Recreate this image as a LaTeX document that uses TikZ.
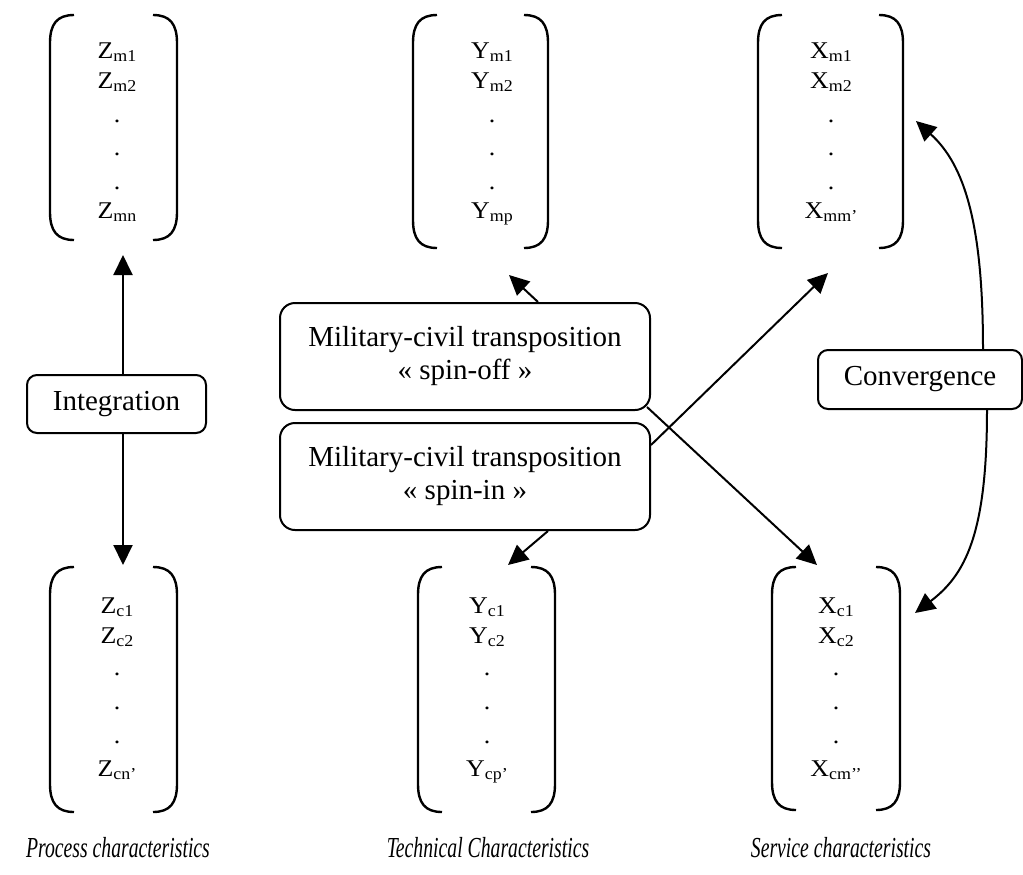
\documentclass[tikz,border=0pt]{standalone}
\usepackage{fontspec}
\usepackage{graphicx}
\setmainfont{Liberation Serif}
\usetikzlibrary{arrows.meta}
\newcommand\sub[1]{\raisebox{-1.6pt}{\fontsize{8.3}{9}\selectfont #1}}
\newcommand\mt[1]{\scalebox{1.08}[1]{#1}}
\newcommand\brk[4]{%
 \draw[bracket] ({#1+24},#3) .. controls ({#1+7},#3) and (#1,{#3+9}) .. (#1,{#3+28}) -- (#1,{#4-28}) .. controls (#1,{#4-9}) and ({#1+7},#4) .. ({#1+24},#4);
 \draw[bracket] ({#2-24},#3) .. controls ({#2-7},#3) and (#2,{#3+9}) .. (#2,{#3+28}) -- (#2,{#4-28}) .. controls (#2,{#4-9}) and ({#2-7},#4) .. ({#2-24},#4);
}
\begin{document}
\begin{tikzpicture}[x=0.5pt,y=-0.5pt,
  bracket/.style={line width=1.2pt},
  cell/.style={anchor=base,inner sep=0pt,font=\fontsize{12}{14}\selectfont},
  rbox/.style={draw,line width=1pt,align=center,inner sep=0pt,font=\fontsize{14.5}{16.5}\selectfont},
  lab/.style={anchor=base,inner sep=0pt,font=\fontsize{14.5}{16}\selectfont\itshape},
  arr/.style={line width=1pt,-{Triangle[length=10pt,width=9.5pt]}}]
\useasboundingbox (0,0) rectangle (1023,874);
% brackets
\brk{50}{177}{15}{240}
\brk{413}{548}{15}{248}
\brk{758}{903}{15}{248}
\brk{50}{177}{567}{812}
\brk{418}{555}{567}{812}
\brk{772}{900}{567}{810}
% matrix entries
\foreach \t/\y [count=\i] in {Z\sub{m1}/58, Z\sub{m2}/88, ./122, ./155, ./189, Z\sub{mn}/218}
  \node[cell] (Zt\i) at (117,\y) {\mt{\t}};
\foreach \t/\y [count=\i] in {Y\sub{m1}/58, Y\sub{m2}/88, ./122, ./155, ./189, Y\sub{mp}/218}
  \node[cell] (Yt\i) at (492,\y) {\mt{\t}};
\foreach \t/\y [count=\i] in {X\sub{m1}/58, X\sub{m2}/88, ./122, ./155, ./189, X\sub{mm’}/218}
  \node[cell] (Xt\i) at (831,\y) {\mt{\t}};
\foreach \t/\y [count=\i] in {Z\sub{c1}/613, Z\sub{c2}/643, ./675, ./709, ./743, Z\sub{cn’}/776}
  \node[cell] (Zb\i) at (117,\y) {\mt{\t}};
\foreach \t/\y [count=\i] in {Y\sub{c1}/613, Y\sub{c2}/643, ./675, ./709, ./743, Y\sub{cp’}/776}
  \node[cell] (Yb\i) at (487,\y) {\mt{\t}};
\foreach \t/\y [count=\i] in {X\sub{c1}/613, X\sub{c2}/643, ./675, ./709, ./743, X\sub{cm{’}{’}}/776}
  \node[cell] (Xb\i) at (836,\y) {\mt{\t}};
% boxes
\node[rbox,rounded corners=5pt,minimum width=89.5pt,minimum height=29pt] (integ) at (116.5,404) {Integration};
\node[rbox,rounded corners=7.5pt,minimum width=185pt,minimum height=53.5pt] (spinoff) at (465,356.5) {Military-civil transposition\\« spin-off »};
\node[rbox,rounded corners=7.5pt,minimum width=185pt,minimum height=53.5pt] (spinin) at (465,476.5) {Military-civil transposition\\« spin-in »};
\node[rbox,rounded corners=5pt,minimum width=102pt,minimum height=29.5pt] (conv) at (920,379.5) {Convergence};
% arrow targets
\coordinate (tZt) at (123,255);
\coordinate (tZb) at (123,565);
\coordinate (tYt) at (509,275);
\coordinate (tYb) at (508,565);
\coordinate (tXt) at (828,273);
\coordinate (tXb) at (817,565);
\coordinate (tXt2) at (916,121);
\coordinate (tXb2) at (915,613);
% connectors
\draw[arr] (integ.north -| tZt) -- (tZt);
\draw[arr] (integ.south -| tZb) -- (tZb);
\draw[arr] (spinoff.north -| 538,0) -- (tYt);
\draw[arr] (spinoff.south east) ++(-4,-4) -- (tXb);
\draw[arr] (spinin.east |- 0,445) -- (tXt);
\draw[arr] (spinin.south -| 548,0) -- (tYb);
\draw[arr] (conv.north -| 983,0) .. controls (983,225) and (965,165) .. (tXt2);
\draw[arr] (conv.south -| 987,0) .. controls (987,535) and (965,575) .. (tXb2);
% labels
\node[lab] (lp) at (118,857) {\scalebox{0.68}[1]{Process characteristics}};
\node[lab] (lt) at (488,857) {\scalebox{0.68}[1]{Technical Characteristics}};
\node[lab] (ls) at (841,857) {\scalebox{0.68}[1]{Service characteristics}};
\end{tikzpicture}
\end{document}
